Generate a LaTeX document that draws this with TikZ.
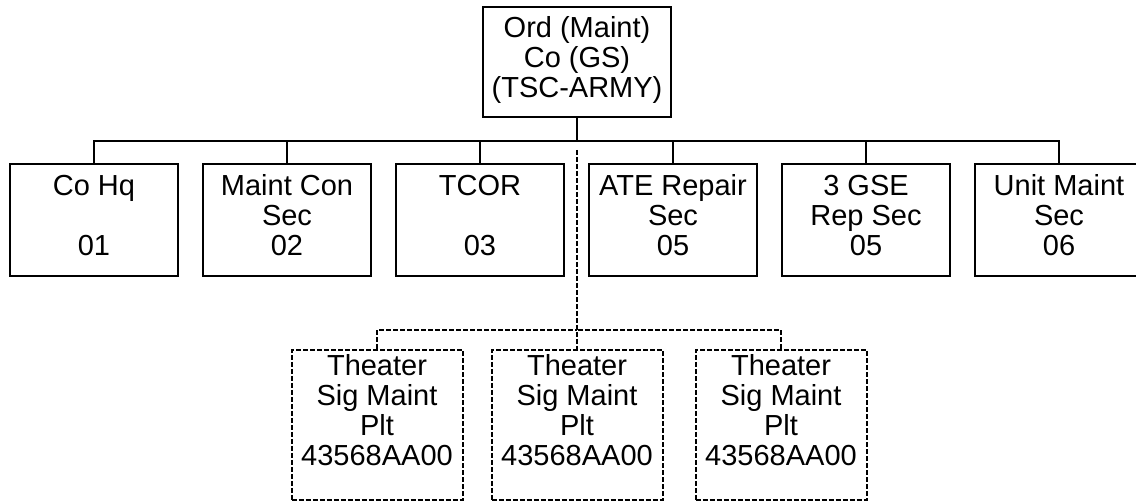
\documentclass[tikz,border=0pt]{standalone}
\usepackage{fontspec}
\setmainfont{Liberation Sans}
\usetikzlibrary{positioning}

\begin{document}
\begin{tikzpicture}[x=1pt,y=-1pt,
		unit/.style={draw, line width=2pt, align=center, inner sep=0pt,
			font=\fontsize{29}{30}\selectfont},
		sec/.style={unit, minimum width=168pt, minimum height=112pt,
			execute at end node={\rule[-10pt]{0pt}{10pt}}},
		plt/.style={unit, dash pattern=on 5pt off 2pt, minimum width=171pt,
			minimum height=150pt, execute at end node={\rule[-30pt]{0pt}{30pt}}},
		link/.style={line width=2pt},
		dlink/.style={line width=2pt, dash pattern=on 5pt off 2pt}]
		\useasboundingbox (0,0) rectangle (1136,502);
		% Company
		\node[unit, minimum width=188pt, minimum height=110pt,
			execute at end node={\rule[-10pt]{0pt}{10pt}}] (ord) at (577,62)
			{Ord (Maint)\\Co (GS)\\(TSC-ARMY)};
		% Sections
		\node[sec] (cohq) at (94,220) {Co Hq\\\mbox{}\\01};
		\node[sec] (maintcon) at (287,220) {Maint Con\\Sec\\02};
		\node[sec] (tcor) at (480,220) {TCOR\\\mbox{}\\03};
		\node[sec] (ate) at (673,220) {ATE Repair\\Sec\\05};
		\node[sec] (gse) at (866,220) {3 GSE\\Rep Sec\\05};
		\node[sec] (unitmaint) at (1059,220) {Unit Maint\\Sec\\06};
		% Attached platoons
		\node[plt] (plta) at (377,425) {Theater\\Sig Maint\\Plt\\43568AA00};
		\node[plt] (pltb) at (577,425) {Theater\\Sig Maint\\Plt\\43568AA00};
		\node[plt] (pltc) at (781,425) {Theater\\Sig Maint\\Plt\\43568AA00};
		% Lines
		\coordinate (bus) at (577,141);
		\coordinate (dbus) at (577,330);
		\draw[link] (ord.south) -- (bus);
		\draw[link] (cohq.north) |- (bus);
		\draw[link] (maintcon.north) |- (bus);
		\draw[link] (tcor.north) |- (bus);
		\draw[link] (ate.north) |- (bus);
		\draw[link] (gse.north) |- (bus);
		\draw[link] (unitmaint.north) |- (bus);
		\draw[dlink, shorten <=9pt] (bus) -- (dbus) -- (pltb.north);
		\draw[dlink] (plta.north) |- (dbus);
		\draw[dlink] (pltc.north) |- (dbus);
	\end{tikzpicture}
\end{document}
